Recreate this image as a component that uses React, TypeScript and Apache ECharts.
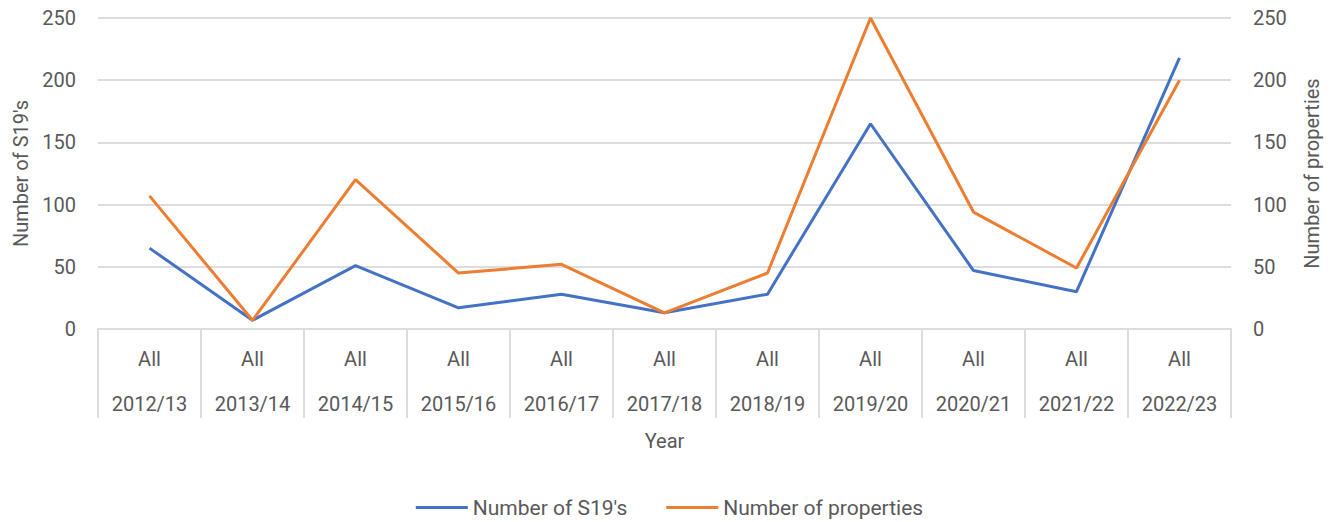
import React, { useEffect, useRef } from "react";
import * as echarts from "echarts";

const years = ["2012/13", "2013/14", "2014/15", "2015/16", "2016/17", "2017/18", "2018/19", "2019/20", "2020/21", "2021/22", "2022/23"];
const subLabels = ["All", "All", "All", "All", "All", "All", "All", "All", "All", "All", "All"];
const s19s = [65, 7, 51, 17, 28, 13, 28, 165, 47, 30, 218];
const properties = [107, 7, 120, 45, 52, 13, 45, 250, 94, 49, 200];
const yTicks = { min: 0, max: 250, interval: 50 };

const FONT = "Roboto, 'Open Sans', sans-serif";
const TXT = "#595959";
const GRID = "#DDDDDD";

export default function App() {
  const ref = useRef<HTMLDivElement>(null);
  useEffect(() => {
    if (!ref.current) return;
    const chart = echarts.init(ref.current, null, { renderer: "svg" });
    const valueAxis = (side: "left" | "right", name: string, gap: number) => ({
      type: "value",
      position: side,
      min: yTicks.min,
      max: yTicks.max,
      interval: yTicks.interval,
      name,
      nameLocation: "middle",
      nameGap: gap,
      nameRotate: 90,
      nameTextStyle: { color: TXT, fontSize: 20, fontFamily: FONT },
      axisLine: { show: false },
      axisTick: { show: false },
      axisLabel: { color: TXT, fontSize: 20, fontFamily: FONT, margin: 22 },
      splitLine: { show: side === "left", lineStyle: { color: GRID, width: 2 } },
    });
    chart.setOption({
      animation: false,
      textStyle: { fontFamily: FONT },
      grid: { left: 98, right: 108, top: 18, bottom: 193, containLabel: false },
      legend: {
        top: 492,
        left: "center",
        itemWidth: 52,
        itemHeight: 3,
        itemGap: 39,
        icon: "rect",
        textStyle: { color: TXT, fontSize: 21, fontFamily: FONT },
        data: ["Number of S19's", "Number of properties"],
      },
      xAxis: {
        type: "category",
        data: years,
        boundaryGap: true,
        name: "Year",
        nameLocation: "middle",
        nameGap: 98,
        nameTextStyle: { color: TXT, fontSize: 20, fontFamily: FONT },
        axisLine: { lineStyle: { color: GRID, width: 2 } },
        axisTick: { show: true, length: 89, lineStyle: { color: GRID, width: 2 } },
        axisLabel: {
          interval: 0,
          margin: 7,
          color: TXT,
          fontSize: 20,
          fontFamily: FONT,
          lineHeight: 45,
          formatter: (v: string, i: number) => `${subLabels[i]}\n${v}`,
        },
      },
      yAxis: [valueAxis("left", "Number of S19's", 67), valueAxis("right", "Number of properties", 71)],
      series: [
        {
          name: "Number of S19's",
          type: "line",
          data: s19s,
          yAxisIndex: 0,
          symbol: "none",
          lineStyle: { color: "#4472C4", width: 3 },
          itemStyle: { color: "#4472C4" },
        },
        {
          name: "Number of properties",
          type: "line",
          data: properties,
          yAxisIndex: 1,
          symbol: "none",
          lineStyle: { color: "#ED7D31", width: 3 },
          itemStyle: { color: "#ED7D31" },
        },
      ],
    });
    return () => chart.dispose();
  }, []);
  return <div ref={ref} style={{ position: "fixed", left: 0, top: 0, width: 1339, height: 522, background: "#fff" }} />;
}
